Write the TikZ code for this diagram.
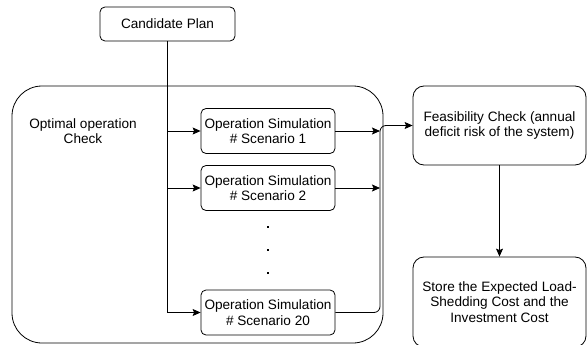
\documentclass[tikz,border=0pt]{standalone}
\usepackage{fontspec}
\setmainfont{Liberation Sans}
\usepackage{tikz}
\usetikzlibrary{positioning,arrows.meta,calc}

\begin{document}
\begin{tikzpicture}[
    x=1pt, y=-1pt,
    line width=0.8pt,
    every node/.style={font=\fontsize{13.6}{15.5}\selectfont, align=center},
    box/.style={draw, rounded corners=5pt, line width=0.8pt},
    simbox/.style={box, minimum width=134pt, minimum height=45pt, inner sep=0pt},
    bigbox/.style={box, rounded corners=11pt, minimum width=173pt, inner sep=0pt},
    arr/.style={-{Stealth[length=8pt,width=7pt,inset=1.5pt]}}
]
\useasboundingbox (0,0) rectangle (587,345);

% ===== CANDIDATE =====
\node[box, minimum width=135pt, minimum height=34pt, inner sep=0pt] (plan) at (167.5, 24) {Candidate Plan};

% ===== OPTIMAL OPERATION CHECK =====
\node[draw, rounded corners=30pt, minimum width=371pt, minimum height=257pt, line width=0.8pt] (check) at (197.5, 214.5) {};
\node (checklbl) at (83, 131) {Optimal operation\\Check};

\node[simbox] (sim1) at (268, 131) {Operation Simulation\\\# Scenario 1};
\node[simbox] (sim2) at (268, 188) {Operation Simulation\\\# Scenario 2};
\node[simbox] (sim20) at (268, 312.5) {Operation Simulation\\\# Scenario 20};
\foreach \y/\n in {227/a, 250/b, 273/c}
    \node[rectangle, fill, inner sep=1.3pt] (dot\n) at (268, \y) {};

% ===== RIGHT COLUMN =====
\node[bigbox, minimum height=79pt] (feas) at (499.5, 125.5) {Feasibility Check (annual\\deficit risk of the system)};
\node[bigbox, minimum height=90pt] (store) at (499.5, 302) {Store the Expected Load-\\Shedding Cost and the\\Investment Cost};

% ===== CONNECTORS =====
\draw[arr] (plan.south) |- (sim20.west);
\draw[arr] (plan.south |- sim1.west) -- (sim1.west);
\draw[arr] (plan.south |- sim2.west) -- (sim2.west);

\coordinate (bus) at (380, 125.5);
\draw[arr] (sim1.east) -- (sim1.east -| bus);
\draw[arr] (sim2.east) -- (sim2.east -| bus);
\draw[arr, rounded corners=6pt] (sim20.east) -| (bus) -- (feas.west);
\draw[arr] (feas.south) -- (store.north);

\end{tikzpicture}
\end{document}
